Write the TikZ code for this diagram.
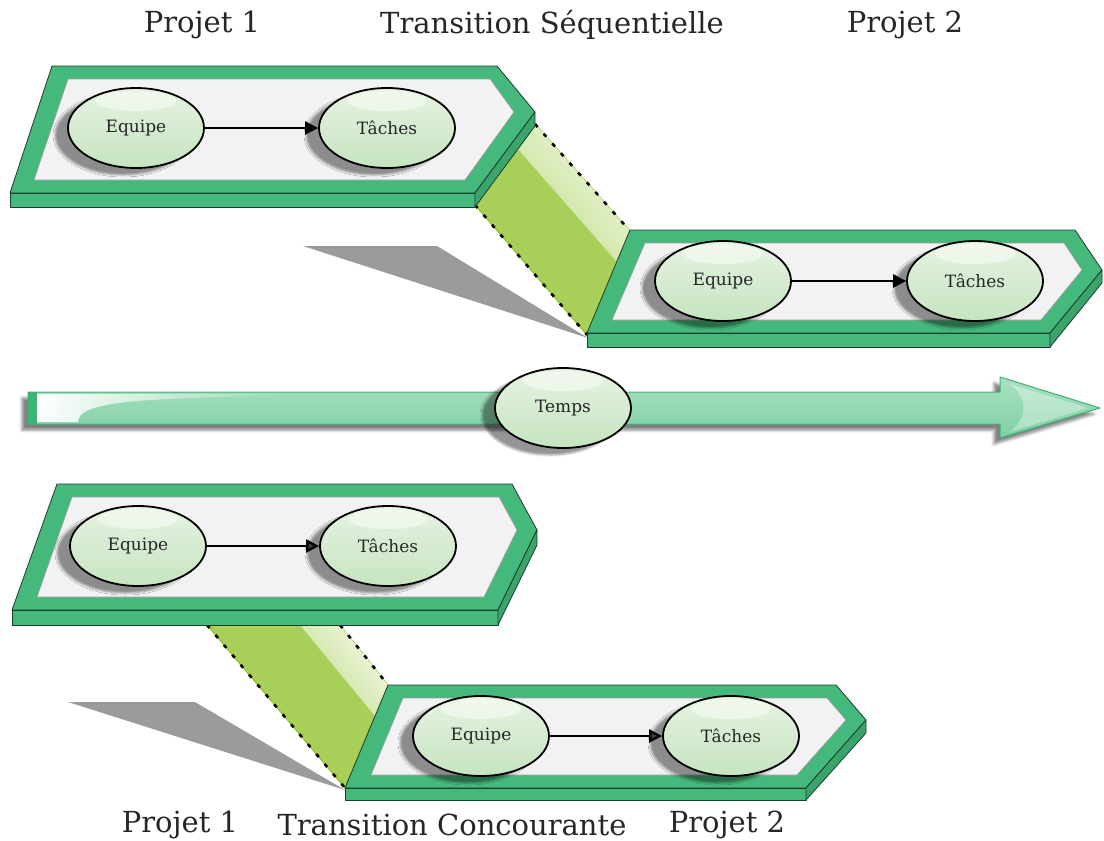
\documentclass[tikz,border=0pt]{standalone}
\usepackage{fontspec}
\setmainfont{DejaVu Serif}
\usetikzlibrary{shapes.geometric,arrows.meta,shadows.blur,fadings}
\definecolor{pgreen}{HTML}{45B97C}
\definecolor{pgreendk}{HTML}{3AA56B}
\definecolor{pedge}{HTML}{1E3D2A}
\definecolor{innerg}{HTML}{F2F2F2}
\definecolor{innerb}{HTML}{9A9A9A}
\definecolor{elltop}{HTML}{E6F3E2}
\definecolor{ellbot}{HTML}{C6E4C0}
\definecolor{conn}{HTML}{A8CF57}
\definecolor{connedge}{HTML}{8CBF2A}
\definecolor{shaft}{HTML}{7FD0A3}
\definecolor{shafttop}{HTML}{A9E1C2}
\definecolor{shaftedge}{HTML}{3EB374}
\definecolor{shadowg}{HTML}{9B9B9B}
\begin{document}
\begin{tikzpicture}[x=1pt,y=-1pt,
 topface/.style={fill=pgreen,draw=pedge,line width=0.8pt,line join=round},
 sideface/.style={fill=pgreendk,draw=pedge,line width=0.8pt,line join=round},
 innerface/.style={fill=innerg,draw=innerb,line width=0.6pt},
 oval/.style={ellipse,draw=black,line width=1.8pt,minimum width=136pt,minimum height=80pt,inner sep=0pt,
   top color=elltop,bottom color=ellbot,font=\fontsize{17}{20}\selectfont,text=black!85,
   blur shadow={shadow xshift=-13pt,shadow yshift=-7pt,shadow opacity=42,shadow blur radius=2pt},
   path picture={\fill[white,opacity=0.45] ([yshift=-13pt]path picture bounding box.north) ellipse [x radius=40pt,y radius=10pt];}},
 flow/.style={-{Triangle[length=13pt,width=13pt]},line width=2.4pt},
 title/.style={font=\fontsize{29}{34}\selectfont,text=black!85},
 dotedge/.style={draw=black,line width=2.6pt,dash pattern=on 4pt off 9pt},
 connbody/.style={fill=conn,draw=connedge,line width=1pt},
 wedge/.style={fill=shadowg}
]
\useasboundingbox (0,0) rectangle (1104,841);

% ---------- titles
\node[title] (h1) at (202,25) {Projet 1};
\node[title] (h2) at (552,25) {Transition Séquentielle};
\node[title] (h3) at (905,25) {Projet 2};
\node[title] (b1) at (180,825) {Projet 1};
\node[title] (b2) at (452,825) {Transition Concourante};
\node[title] (b3) at (727,825) {Projet 2};

% ---------- wedge shadows
\fill[wedge] (303,246) -- (437,246) -- (588,338) -- cycle;
\fill[wedge] (68,702) -- (195,702) -- (345,790) -- cycle;

% ---------- top connector
\coordinate (cA) at (535,124);
\coordinate (cB) at (630,231);
\coordinate (cC) at (587,335);
\coordinate (cD) at (475,205);
\coordinate (cP) at (517,148);
\coordinate (cQ) at (617,262);
\path[connbody] (cA) -- (cB) -- (cC) -- (cD) -- cycle;
\shade[top color=white!85!conn,bottom color=white!30!conn,shading angle=-48.4] (cA) -- (cB) -- (cQ) -- (cP) -- cycle;
\draw[dotedge] (cD) -- (cC);
\draw[dotedge] (cA) -- (cB);

% ---------- top panel 1
\path[topface] (52,66) -- (497,66) -- (535,112) -- (475,193) -- (10,193) -- cycle;
\path[innerface] (68,79) -- (490,79) -- (514,112) -- (465,180) -- (34,180) -- cycle;
\path[topface] (10,193) rectangle (475,207);
\path[sideface] (475,193) -- (535,112) -- (535,126) -- (475,207) -- cycle;

% ---------- top panel 2
\path[topface] (630,230) -- (1075,230) -- (1102,270) -- (1050,333) -- (587,333) -- cycle;
\path[innerface] (645,243) -- (1064,243) -- (1082,270) -- (1041,320) -- (612,320) -- cycle;
\path[topface] (587,333) rectangle (1050,347);
\path[sideface] (1050,333) -- (1102,270) -- (1102,283) -- (1050,347) -- cycle;

\node[oval] (e1) at (136,128) {Equipe};
\node[oval] (t1) at (387,128) {Tâches};
\draw[flow] (e1) -- (t1);
\node[oval] (e2) at (723,281) {Equipe};
\node[oval] (t2) at (975,281) {Tâches};
\draw[flow] (e2) -- (t2);

% ---------- time arrow
\path[top color=shafttop,bottom color=shaft,draw=shaftedge,line width=1pt,line join=round,
  blur shadow={shadow xshift=-6pt,shadow yshift=-6pt,shadow opacity=50,shadow blur radius=3pt}]
  (28,392) -- (1000,392) -- (1000,377) -- (1100,408) -- (1000,438) -- (1000,424) -- (28,424) -- cycle;
\fill[shaftedge] (28,392) rectangle (37,424);
\fill[white,path fading=east] (37,394) -- (37,422) -- (78,422) .. controls (78,404) and (120,398) .. (280,396) -- (280,394) -- cycle;
\fill[white,opacity=0.35] (1010,384) .. controls (1028,398) and (1028,418) .. (1010,432) -- (1088,408) -- cycle;
\node[oval] (temps) at (563,408) {Temps};

% ---------- bottom connector
\coordinate (dA) at (340,625);
\coordinate (dB) at (388,685);
\coordinate (dC) at (345,788);
\coordinate (dD) at (207,625);
\coordinate (dP) at (300,625);
\coordinate (dQ) at (375,716);
\path[connbody] (dA) -- (dB) -- (dC) -- (dD) -- cycle;
\shade[top color=white!85!conn,bottom color=white!30!conn,shading angle=-51.3] (dA) -- (dB) -- (dQ) -- (dP) -- cycle;
\draw[dotedge] (dD) -- (dC);
\draw[dotedge] (dA) -- (dB);

% ---------- bottom panel 1
\path[topface] (57,484) -- (512,484) -- (537,530) -- (498,610) -- (12,610) -- cycle;
\path[innerface] (72,497) -- (499,497) -- (517,530) -- (484,597) -- (37,597) -- cycle;
\path[topface] (12,610) rectangle (498,625);
\path[sideface] (498,610) -- (537,530) -- (537,545) -- (498,625) -- cycle;

% ---------- bottom panel 2
\path[topface] (388,685) -- (836,685) -- (866,720) -- (806,788) -- (345,788) -- cycle;
\path[innerface] (403,698) -- (827,698) -- (846,720) -- (797,775) -- (371,775) -- cycle;
\path[topface] (345,788) rectangle (806,800);
\path[sideface] (806,788) -- (866,720) -- (866,733) -- (806,800) -- cycle;

\node[oval] (e3) at (138,546) {Equipe};
\node[oval] (t3) at (388,546) {Tâches};
\draw[flow] (e3) -- (t3);
\node[oval] (e4) at (481,736) {Equipe};
\node[oval] (t4) at (731,736) {Tâches};
\draw[flow] (e4) -- (t4);
\end{tikzpicture}
\end{document}
